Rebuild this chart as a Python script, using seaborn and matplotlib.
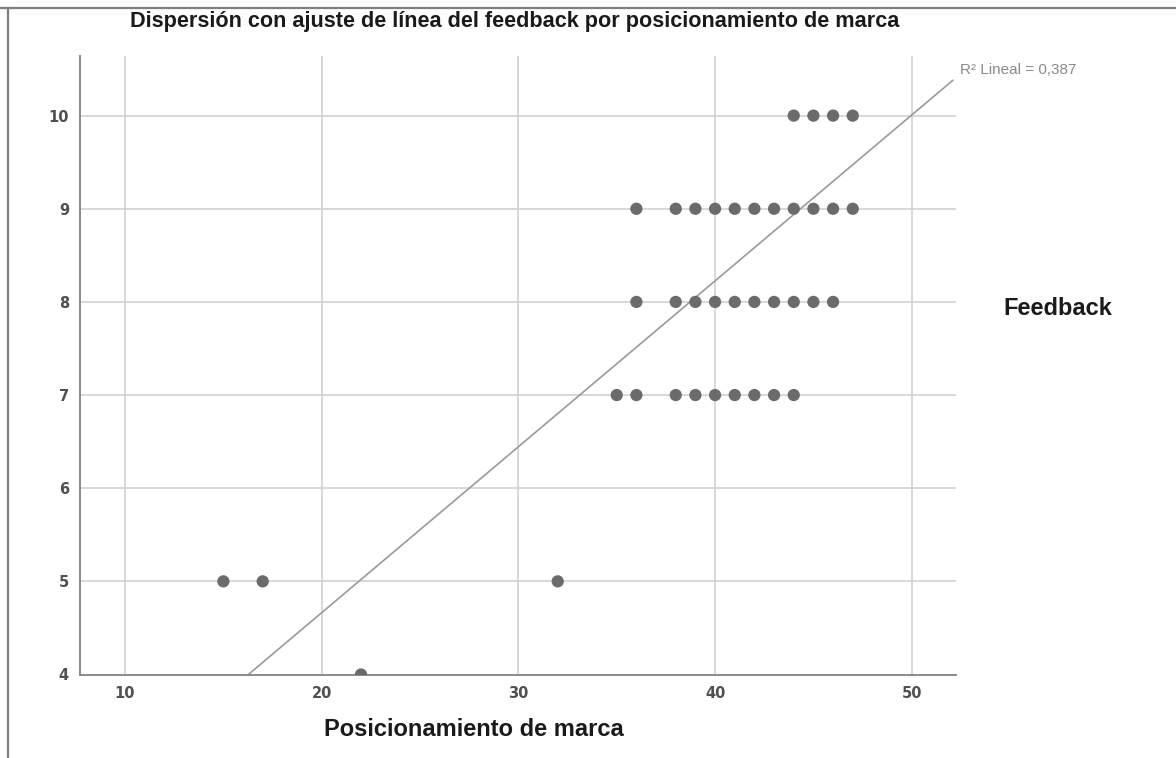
import matplotlib
matplotlib.use("Agg")
import matplotlib.pyplot as plt
from matplotlib.lines import Line2D
import numpy as np
import pandas as pd
import seaborn as sns

# Brand positioning score (x) and feedback score (y) for each respondent
posicionamiento = [44, 45, 46, 47,
                   36, 38, 39, 40, 41, 42, 43, 44, 45, 46, 47,
                   36, 38, 39, 40, 41, 42, 43, 44, 45, 46,
                   35, 36, 38, 39, 40, 41, 42, 43, 44,
                   15, 17, 32,
                   22]
feedback = [10, 10, 10, 10,
            9, 9, 9, 9, 9, 9, 9, 9, 9, 9, 9,
            8, 8, 8, 8, 8, 8, 8, 8, 8, 8,
            7, 7, 7, 7, 7, 7, 7, 7, 7,
            5, 5, 5,
            4]

# Linear fit reported for the cloud
fit_intercept = 1.102
fit_slope = 0.1781
r2_label = "R² Lineal = 0,387"

x_ticks = [10, 20, 30, 40, 50]
y_ticks = [4, 5, 6, 7, 8, 9, 10]

df = pd.DataFrame({"Posicionamiento de marca": posicionamiento,
                   "Feedback": feedback})

sns.set_style("white")
plt.rcParams["font.family"] = ["Liberation Sans", "DejaVu Sans"]

fig = plt.figure(figsize=(11.76, 7.58), dpi=100)
ax = fig.add_axes([80 / 1176, 1 - 674.5 / 758, (956 - 80) / 1176, (674.5 - 56) / 758])

xmin, xmax = 7.71, 52.25
ymin, ymax = 4.0, 10.64

# Grid
for xt in x_ticks:
    ax.axvline(xt, color="#d2d2d2", lw=1.2, zorder=0)
for yt in y_ticks[1:]:
    ax.axhline(yt, color="#d2d2d2", lw=1.2, zorder=0)

# Fit line
fx = np.array([xmin, 52.1])
sns.lineplot(x=fx, y=fit_intercept + fit_slope * fx, ax=ax,
             color="#9a9a9a", lw=1.2, zorder=2)

sns.scatterplot(data=df, x="Posicionamiento de marca", y="Feedback", ax=ax,
                s=78, color="#6b6b6b", edgecolor="none", zorder=3)

ax.set_xlim(xmin, xmax)
ax.set_ylim(ymin, ymax)
ax.set_xticks(x_ticks)
ax.set_yticks(y_ticks)
ax.set_xlabel("")
ax.set_ylabel("")
ax.tick_params(axis="both", length=0, labelsize=10.5, labelcolor="#505050")
ax.tick_params(axis="x", pad=8)
ax.tick_params(axis="y", pad=8)
for lbl in ax.get_xticklabels() + ax.get_yticklabels():
    lbl.set_family("DejaVu Sans")
    lbl.set_fontweight("bold")

for side in ("top", "right"):
    ax.spines[side].set_visible(False)
for side in ("left", "bottom"):
    ax.spines[side].set_color("#8a8a8a")
    ax.spines[side].set_linewidth(1.4)

ax.text(960 / 1176, 1 - 70 / 758, r2_label, transform=fig.transFigure,
        ha="left", va="center", fontsize=11, color="#8a8a8a")

fig.text(515 / 1176, 1 - 21 / 758,
         "Dispersión con ajuste de línea del feedback por posicionamiento de marca",
         ha="center", va="center", fontsize=15.6, fontweight="bold", color="#1a1a1a")
fig.text(473.5 / 1176, 1 - 729 / 758, "Posicionamiento de marca",
         ha="center", va="center", fontsize=17, fontweight="bold", color="#1a1a1a")
fig.text(1003 / 1176, 1 - 309 / 758, "Feedback",
         ha="left", va="center", fontsize=17, fontweight="bold", color="#1a1a1a")

# Frame around the figure (top and left edges)
fig.add_artist(Line2D([0, 1], [1 - 7.5 / 758, 1 - 7.5 / 758],
                      transform=fig.transFigure, color="#7f7f7f", lw=1.6))
fig.add_artist(Line2D([7.5 / 1176, 7.5 / 1176], [0, 1 - 7.5 / 758],
                      transform=fig.transFigure, color="#7f7f7f", lw=1.6))

fig.savefig("out.png", dpi=100, facecolor="white")
